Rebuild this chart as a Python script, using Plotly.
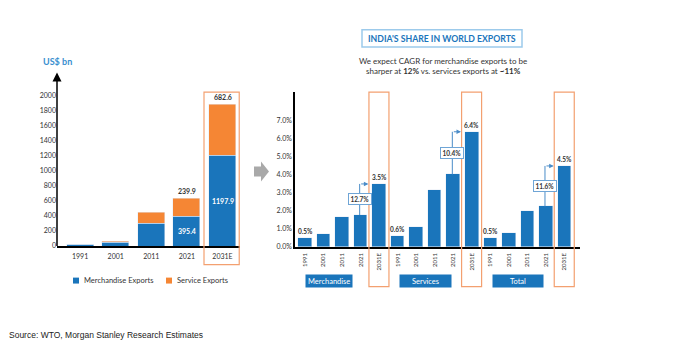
import plotly.graph_objects as go

W, H = 680, 351
def px(x): return x / W
def py(y): return 1 - y / H

BLUE = "#1A75BB"
ORANGE = "#F58634"
BOX_OR = "#F3A070"
DARK = "#333333"
FONT = "Lato"

# ---- Left chart data (US$ bn) ----
years = ["1991", "2001", "2011", "2021", "2031E"]
series_names = ["Merchandise Exports", "Service Exports"]
merch_exports = [18, 44, 301, 395.4, 1197.9]
service_exports = [5, 17, 138, 239.9, 682.6]
merch_labels = ["", "", "", "395.4", "1197.9"]
service_labels = ["", "", "", "239.9", "682.6"]
left_yticks = list(range(0, 2001, 200))

# ---- Right chart data (share of world exports) ----
groups = ["Merchandise", "Services", "Total"]
share_merch = [0.005, 0.0068, 0.0164, 0.0177, 0.035]
share_serv = [0.006, 0.011, 0.0315, 0.0403, 0.064]
share_total = [0.005, 0.0077, 0.0197, 0.0225, 0.045]
cagr_labels = ["12.7%", "10.4%", "11.6%"]
right_yticks = [0, 0.01, 0.02, 0.03, 0.04, 0.05, 0.06, 0.07]

shares = [share_merch, share_serv, share_total]
xr, yr, tt = [], [], []
for g, vals in enumerate(shares):
    for k, v in enumerate(vals):
        xr.append(g * len(years) + k)
        yr.append(v)
        tt.append(years[k])

xl = list(range(len(years)))

fig = go.Figure()

fig.add_trace(go.Bar(x=xl, y=merch_exports, name=series_names[0], showlegend=False,
                     marker_color=BLUE, width=0.76, xaxis="x", yaxis="y", hoverinfo="skip"))
fig.add_trace(go.Bar(x=xl, y=service_exports, name=series_names[1], showlegend=False,
                     marker_color=ORANGE, width=0.76, xaxis="x", yaxis="y", hoverinfo="skip"))

fig.add_trace(go.Bar(x=xr, y=yr, marker_color=BLUE, width=0.73, xaxis="x2", yaxis="y2",
                     showlegend=False, hoverinfo="skip"))

annotations = []
shapes = []

def note(x, y, text, size, color, family=FONT, xanchor="center", yanchor="middle", **kw):
    d = dict(x=x, y=y, xref="paper", yref="paper", text=text, showarrow=False,
             xanchor=xanchor, yanchor=yanchor, font=dict(size=size, color=color, family=family))
    d.update(kw)
    annotations.append(d)

# Left labels
for i in xl:
    if service_labels[i]:
        annotations.append(dict(x=i, y=merch_exports[i] + service_exports[i], xref="x", yref="y",
                                text="<b>%s</b>" % service_labels[i], showarrow=False,
                                xanchor="center", yanchor="bottom", yshift=1,
                                font=dict(size=7, color=DARK, family=FONT)))
    if merch_labels[i]:
        annotations.append(dict(x=i, y=merch_exports[i] * 0.5, xref="x", yref="y",
                                text="<b>%s</b>" % merch_labels[i], showarrow=False,
                                xanchor="center", yanchor="middle",
                                font=dict(size=7, color="white", family=FONT)))

# Legend (drawn manually to match the compact original layout)
for (sx, tx), name, col in zip([(73, 82), (166, 175)], series_names, [BLUE, ORANGE]):
    shapes.append(dict(type="rect", xref="paper", yref="paper", x0=px(sx), x1=px(sx + 6),
                       y0=py(286), y1=py(280), fillcolor=col, line=dict(width=0)))
    note(px(tx), py(283), name, 7.5, DARK, xanchor="left")

# Left y axis arrow
annotations.append(dict(x=px(57), y=py(73), xref="paper", yref="paper", ax=0, ay=175,
                        text="", showarrow=True, arrowhead=2, arrowsize=1.2, arrowwidth=1.5,
                        arrowcolor="black", standoff=0))
note(px(41), py(62), "<b>US$ bn</b>", 9, "#3A8FCF", xanchor="left")

# Left highlight box
shapes.append(dict(type="rect", xref="x", yref="paper", x0=4 - 0.52, x1=4 + 0.47,
                   y0=py(267), y1=py(93), line=dict(color=BOX_OR, width=1.2)))

# Gray arrow between charts
shapes.append(dict(type="path", xref="paper", yref="paper",
                   path="M %f %f L %f %f L %f %f L %f %f L %f %f L %f %f L %f %f Z" % (
                       px(254), py(168), px(261), py(168), px(261), py(163), px(269), py(173),
                       px(261), py(183), px(261), py(178), px(254), py(178)),
                   fillcolor="#A9A9A9", line=dict(width=0)))

# Right chart highlight boxes, group labels, value labels, CAGR arrows
grp_box = [(0.05, 2.55), (5.12, 7.87), (10.14, 12.84)]
n = len(years)
for g, vals in enumerate(shares):
    i31 = g * n + n - 1
    i21 = g * n + n - 2
    i91 = g * n
    shapes.append(dict(type="rect", xref="x2", yref="paper", x0=i31 - 0.55, x1=i31 + 0.53,
                       y0=py(289), y1=py(93), line=dict(color=BOX_OR, width=1.2)))
    annotations.append(dict(x=(grp_box[g][0] + grp_box[g][1]) / 2, y=py(283), xref="x2", yref="paper",
                            text=groups[g], showarrow=False, xanchor="center", yanchor="middle",
                            width=(grp_box[g][1] - grp_box[g][0]) * 18.54, height=12,
                            bgcolor=BLUE, borderpad=0,
                            font=dict(size=7.5, color="white", family=FONT)))
    for idx, v in [(i91, vals[0]), (i31, vals[-1])]:
        annotations.append(dict(x=idx, y=v, xref="x2", yref="y2", text="<b>%.1f%%</b>" % (v * 100),
                                showarrow=False, xanchor="center", yanchor="bottom", yshift=1,
                                font=dict(size=6.5, color=DARK, family=FONT)))
    # CAGR connector
    shapes.append(dict(type="line", xref="x2", yref="y2", x0=i21 - 0.05, x1=i21 - 0.05,
                       y0=vals[-2], y1=vals[-1], line=dict(color="#4A8CC8", width=1)))
    annotations.append(dict(x=i21 + 0.42, y=vals[-1], xref="x2", yref="y2",
                            ax=i21 - 0.05, ay=vals[-1], axref="x2", ayref="y2",
                            text="", showarrow=True, arrowhead=2, arrowsize=0.9,
                            arrowwidth=1, arrowcolor="#4A8CC8", standoff=0))
    annotations.append(dict(x=i21 - 0.05, y=(vals[-2] + vals[-1]) / 2, xref="x2", yref="y2",
                            text="<b>%s</b>" % cagr_labels[g], showarrow=False,
                            xanchor="center", yanchor="middle",
                            bgcolor="white", bordercolor="#6FA5D6", borderwidth=1, borderpad=1.5,
                            font=dict(size=6.5, color=DARK, family=FONT)))

# Title box & subtitle
shapes.append(dict(type="rect", xref="paper", yref="paper", x0=px(362), x1=px(522),
                   y0=py(47.5), y1=py(30), line=dict(color="#9CCAEB", width=1.5)))
note(px(442), py(38.5), "<b>INDIA'S SHARE IN WORLD EXPORTS</b>", 8.7, BLUE)
note(px(443), py(66.5),
     "We expect CAGR for merchandise exports to be<br>sharper at <b>12%</b> vs. services exports at <b>~11%</b>",
     8, DARK, align="center")

# Source
note(px(7), py(338), "Source: WTO, Morgan Stanley Research Estimates", 8.5, "#222222",
     family="Liberation Sans", xanchor="left")

fig.update_layout(
    width=W, height=H, margin=dict(l=0, r=0, t=0, b=0),
    paper_bgcolor="white", plot_bgcolor="white",
    barmode="stack", bargap=0, showlegend=False,
    font=dict(family=FONT, color=DARK),
    xaxis=dict(domain=[px(57), px(240.3)], range=[-0.65, 4.5],
               tickvals=xl, ticktext=years, ticklabelstandoff=3,
               showline=True, linecolor="black", linewidth=1.5, ticks="",
               tickfont=dict(size=7, color=DARK), showgrid=False, zeroline=False, fixedrange=True),
    yaxis=dict(domain=[py(248), py(75)], range=[0, 2276], tickvals=left_yticks,
               showline=False, showgrid=False, zeroline=False, ticks="",
               tickfont=dict(size=7, color=DARK), fixedrange=True),
    xaxis2=dict(domain=[px(295), px(580)], range=[-0.54, 14.84], anchor="y2",
                tickvals=xr, ticktext=tt, tickangle=-90, ticklabelstandoff=2,
                showline=True, linecolor="black", linewidth=1.5, ticks="",
                tickfont=dict(size=6, color=DARK), showgrid=False, zeroline=False, fixedrange=True),
    yaxis2=dict(domain=[py(249), py(93)], range=[0, 0.086], anchor="x2",
                tickvals=right_yticks, tickformat=".1%",
                showline=True, linecolor="black", linewidth=1.5, ticks="",
                tickfont=dict(size=7, color=DARK), showgrid=False, zeroline=False, fixedrange=True),
    annotations=annotations, shapes=shapes,
)

fig.write_html("out.html")
